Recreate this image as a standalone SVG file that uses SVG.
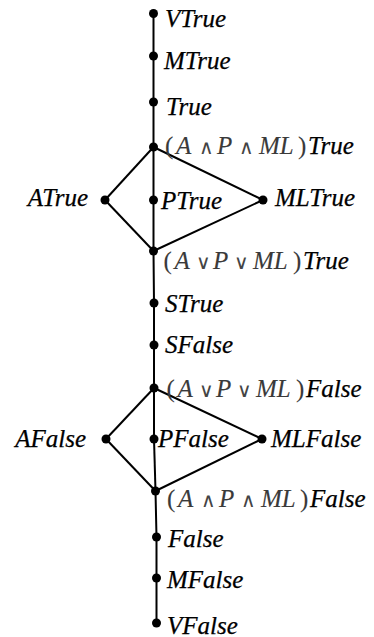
<svg xmlns="http://www.w3.org/2000/svg" width="374" height="637" viewBox="0 0 374 637">
<style>
.e{stroke:#000;stroke-width:2;fill:none}
.d{fill:#000}
text{font-family:"Liberation Serif","Times New Roman",serif;font-size:25px;font-style:italic;fill:#000;stroke:#000;stroke-width:0.25}
.g{fill:#3a3a3a;stroke:#3a3a3a;stroke-width:0.1}
.u{font-style:normal}
.op{font-style:normal;font-size:20px;fill:#444;stroke:none}
</style>
<rect width="374" height="637" fill="#fff"/>
<g id="connectors" class="e">
<polyline points="153.5,13.5 153.5,56 153.5,102 153.5,147"/>
<line x1="153.5" y1="147" x2="105" y2="200"/>
<line x1="153.5" y1="147" x2="153.5" y2="200"/>
<line x1="153.5" y1="147" x2="263" y2="200"/>
<line x1="105" y1="200" x2="153.5" y2="251"/>
<line x1="153.5" y1="200" x2="153.5" y2="251"/>
<line x1="263" y1="200" x2="153.5" y2="251"/>
<polyline points="153.5,251 154,303 154,345 154,388"/>
<line x1="154" y1="388" x2="106" y2="439"/>
<line x1="154" y1="388" x2="154" y2="439"/>
<line x1="154" y1="388" x2="262" y2="439"/>
<line x1="106" y1="439" x2="155.5" y2="491"/>
<line x1="154" y1="439" x2="155.5" y2="491"/>
<line x1="262" y1="439" x2="155.5" y2="491"/>
<polyline points="155.5,491 156.5,537 156.5,578 156.5,623"/>
</g>
<g id="VTrue"><circle class="d" cx="153.5" cy="13.5" r="4.5"/><text x="165" y="26.5">VTrue</text></g>
<g id="MTrue"><circle class="d" cx="153.5" cy="56" r="4.5"/><text x="164" y="69">MTrue</text></g>
<g id="True"><circle class="d" cx="153.5" cy="102" r="4.5"/><text x="166" y="115">True</text></g>
<g id="AndTrue"><circle class="d" cx="153.5" cy="147" r="4.5"/>
<text y="153.5"><tspan x="165" class="u g">(</tspan><tspan x="176" class="g">A</tspan><tspan x="199" class="op">∧</tspan><tspan x="217" class="g">P</tspan><tspan x="239" class="op">∧</tspan><tspan x="259" class="g">ML</tspan><tspan x="298" class="u g">)</tspan><tspan x="308">True</tspan></text></g>
<g id="ATrue"><circle class="d" cx="105" cy="200" r="4.5"/><text x="88" y="206" text-anchor="end">ATrue</text></g>
<g id="PTrue"><circle class="d" cx="153.5" cy="200" r="4.5"/><text x="161" y="209">PTrue</text></g>
<g id="MLTrue"><circle class="d" cx="263" cy="200" r="4.5"/><text x="275" y="206">MLTrue</text></g>
<g id="OrTrue"><circle class="d" cx="153.5" cy="251" r="4.5"/>
<text y="268.5"><tspan x="163.5" class="u g">(</tspan><tspan x="174.5" class="g">A</tspan><tspan x="196" class="op">∨</tspan><tspan x="213" class="g">P</tspan><tspan x="234" class="op">∨</tspan><tspan x="253" class="g">ML</tspan><tspan x="293" class="u g">)</tspan><tspan x="303">True</tspan></text></g>
<g id="STrue"><circle class="d" cx="154" cy="303" r="4.5"/><text x="165" y="312">STrue</text></g>
<g id="SFalse"><circle class="d" cx="154" cy="345" r="4.5"/><text x="165" y="353">SFalse</text></g>
<g id="OrFalse"><circle class="d" cx="154" cy="388" r="4.5"/>
<text y="397"><tspan x="166.5" class="u g">(</tspan><tspan x="177.5" class="g">A</tspan><tspan x="199" class="op">∨</tspan><tspan x="216" class="g">P</tspan><tspan x="237" class="op">∨</tspan><tspan x="256" class="g">ML</tspan><tspan x="296" class="u g">)</tspan><tspan x="306">False</tspan></text></g>
<g id="AFalse"><circle class="d" cx="106" cy="439" r="4.5"/><text x="86" y="447" text-anchor="end">AFalse</text></g>
<g id="PFalse"><circle class="d" cx="154" cy="439" r="4.5"/><text x="158" y="447">PFalse</text></g>
<g id="MLFalse"><circle class="d" cx="262" cy="439" r="4.5"/><text x="271" y="447">MLFalse</text></g>
<g id="AndFalse"><circle class="d" cx="155.5" cy="491" r="4.5"/>
<text y="507"><tspan x="167" class="u g">(</tspan><tspan x="178" class="g">A</tspan><tspan x="201" class="op">∧</tspan><tspan x="219" class="g">P</tspan><tspan x="241" class="op">∧</tspan><tspan x="261" class="g">ML</tspan><tspan x="300" class="u g">)</tspan><tspan x="310">False</tspan></text></g>
<g id="False"><circle class="d" cx="156.5" cy="537" r="4.5"/><text x="168" y="547">False</text></g>
<g id="MFalse"><circle class="d" cx="156.5" cy="578" r="4.5"/><text x="167" y="587.5">MFalse</text></g>
<g id="VFalse"><circle class="d" cx="156.5" cy="623" r="4.5"/><text x="167" y="633.5">VFalse</text></g>
</svg>
